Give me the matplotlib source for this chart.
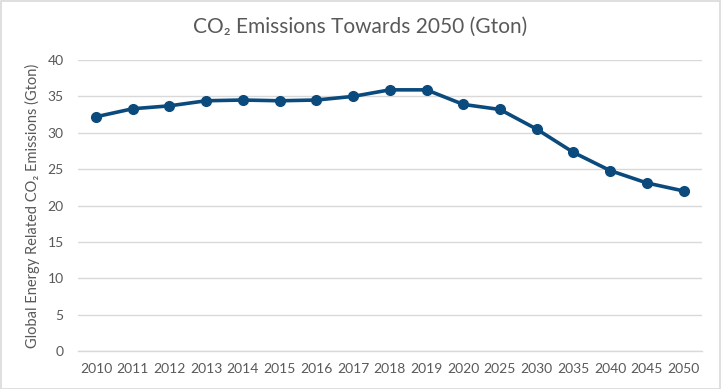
import matplotlib
matplotlib.use("Agg")
import matplotlib.pyplot as plt
from matplotlib.patches import Rectangle

years = ["2010", "2011", "2012", "2013", "2014", "2015", "2016", "2017", "2018",
         "2019", "2020", "2025", "2030", "2035", "2040", "2045", "2050"]
emissions = [32.2, 33.3, 33.7, 34.4, 34.5, 34.4, 34.5, 35.0, 35.9,
             35.9, 33.9, 33.2, 30.5, 27.3, 24.8, 23.1, 22.0]
yticks = [0, 5, 10, 15, 20, 25, 30, 35, 40]

plt.rcParams['font.family'] = ['Lato', 'DejaVu Sans']
txt = '#595959'

fig = plt.figure(figsize=(7.21, 3.89), dpi=100)
fig.patches.append(Rectangle((0.001, 0.001), 0.997, 0.997, transform=fig.transFigure,
                             fill=False, edgecolor='#d9d9d9', linewidth=1.2))
ax = fig.add_axes([0.1076, 0.0977, 0.866, 0.748])

x = list(range(len(years)))
ax.plot(x, emissions, color='#0a4a7c', linewidth=2.6, marker='o', markersize=7,
        zorder=3)
ax.set_xlim(-0.5, len(years) - 0.5)
ax.set_ylim(0, 40)
ax.set_yticks(yticks)
ax.set_xticks(x)
ax.set_xticklabels(years)
ax.tick_params(axis='both', length=0, labelsize=10, colors=txt)
ax.tick_params(axis='x', pad=9)
ax.tick_params(axis='y', pad=10)
ax.grid(axis='y', color='#d9d9d9', linewidth=1)
ax.set_axisbelow(True)
for s in ['top', 'right', 'left']:
    ax.spines[s].set_visible(False)
ax.spines['bottom'].set_color('#d9d9d9')
ax.spines['bottom'].set_linewidth(1)

ax.set_ylabel('Global Energy Related CO₂ Emissions (Gton)', fontsize=10.5, color=txt,
              labelpad=5)
fig.text(0.5, 0.93, 'CO₂ Emissions Towards 2050 (Gton)', ha='center', va='center',
         fontsize=15, color=txt)

fig.savefig('out.png', dpi=100)
